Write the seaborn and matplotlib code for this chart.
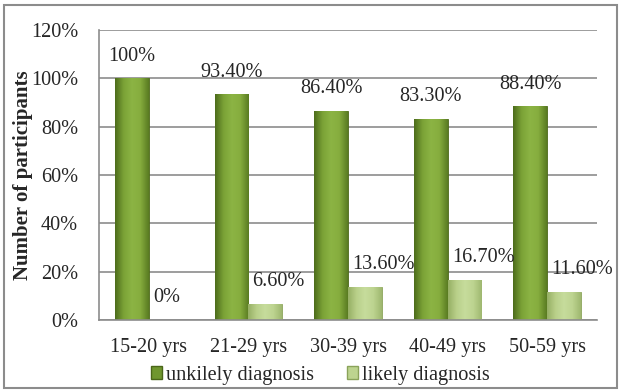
import numpy as np
import matplotlib
matplotlib.use("Agg")
import matplotlib.pyplot as plt
import seaborn as sns
import pandas as pd
from matplotlib.patches import Rectangle
from matplotlib.colors import LinearSegmentedColormap

# data
age_groups = ["15-20 yrs", "21-29 yrs", "30-39 yrs", "40-49 yrs", "50-59 yrs"]
unlikely = [100.0, 93.4, 86.4, 83.3, 88.4]
likely = [0.0, 6.6, 13.6, 16.7, 11.6]
unlikely_labels = ["100%", "93.40%", "86.40%", "83.30%", "88.40%"]
likely_labels = ["0%", "6.60%", "13.60%", "16.70%", "11.60%"]
series_names = ["unkilely diagnosis", "likely diagnosis"]

df = pd.DataFrame({
  "age": age_groups * 2,
  "pct": unlikely + likely,
  "series": [series_names[0]] * 5 + [series_names[1]] * 5,
})

sns.set_style("white")
plt.rcParams['font.family'] = ['Liberation Serif', 'DejaVu Serif']
fs = 14.6

dark = "#84ab3c"
light = "#bdd48f"

fig = plt.figure(figsize=(6.22, 3.92), dpi=100)
ax = fig.add_axes([99/622, 72/392, 498/622, 290/392])
sns.barplot(
  data=df,
  x="age",
  y="pct",
  hue="series",
  hue_order=series_names,
  palette=[dark, light],
  width=0.68,
  gap=0,
  saturation=1,
  legend=False,
  ax=ax,
)

# soft cylinder-like shading inside the bars (darker sides)
shades = [
  LinearSegmentedColormap.from_list("d", ["#4d6d1c", "#7ba236", "#8cb444", "#86ad3e", "#5a7c22"]),
  LinearSegmentedColormap.from_list("l", ["#97b065", "#b9d08a", "#c6dc9c", "#bdd490", "#9fb870"]),
]
edges = ["#4a6619", "#8aa35a"]
grad = np.linspace(0, 1, 64).reshape(1, -1)
for cont, cm, ec in zip(ax.containers, shades, edges):
  for bar in cont:
    bar.set_edgecolor(ec)
    bar.set_linewidth(0.6)
    h = bar.get_height()
    if h <= 0:
      continue
    x0 = bar.get_x()
    im = ax.imshow(grad, cmap=cm, aspect="auto", interpolation="bilinear",
                   extent=(x0, x0 + bar.get_width(), 0, h), zorder=bar.get_zorder() + 0.1)
    im.set_clip_path(bar)

ax.set_xlim(-0.5, 4.5)
ax.set_ylim(0, 120)
ax.set_yticks(np.arange(0, 121, 20))
ax.set_yticklabels([f"{v}%" for v in range(0, 121, 20)])
ax.yaxis.grid(True, color="#8c8c8c", linewidth=1.2)
ax.set_axisbelow(True)
ax.tick_params(axis="both", length=0, labelsize=fs)
ax.tick_params(axis="y", pad=15)
ax.tick_params(axis="x", pad=13)
for s in ["top", "right"]:
  ax.spines[s].set_visible(False)
for s in ["left", "bottom"]:
  ax.spines[s].set_color("#8c8c8c")
  ax.spines[s].set_linewidth(1.2)
ax.set_xlabel("")
ax.set_ylabel("Number of participants", fontweight="bold", fontsize=15)
ax.yaxis.set_label_coords(-0.133, 0.5)

# value labels
for bar, lab in zip(ax.containers[0], unlikely_labels):
  ax.annotate(lab, (bar.get_x() + bar.get_width() / 2, bar.get_height()),
              xytext=(0, 16), textcoords="offset points",
              ha="center", va="center", fontsize=fs)
for bar, lab in zip(ax.containers[1], likely_labels):
  ax.annotate(lab, (bar.get_x(), bar.get_height()),
              xytext=(3, 16), textcoords="offset points",
              ha="left", va="center", fontsize=fs)

handles = [Rectangle((0, 0), 1, 1, facecolor=c, edgecolor=e) for c, e in zip(["#6f962e", light], edges)]
fig.legend(handles, series_names, loc="center", bbox_to_anchor=(0.515, 0.043),
           ncol=2, frameon=False, handlelength=0.55, handleheight=0.55,
           handletextpad=0.2, columnspacing=1.6, fontsize=fs)

# outer chart border
fig.patches.append(Rectangle((4/622, 4/392), 613/622, 383/392, transform=fig.transFigure,
                             fill=False, edgecolor="#8c8c8c", linewidth=1.5))

plt.savefig("out.png", dpi=100)
